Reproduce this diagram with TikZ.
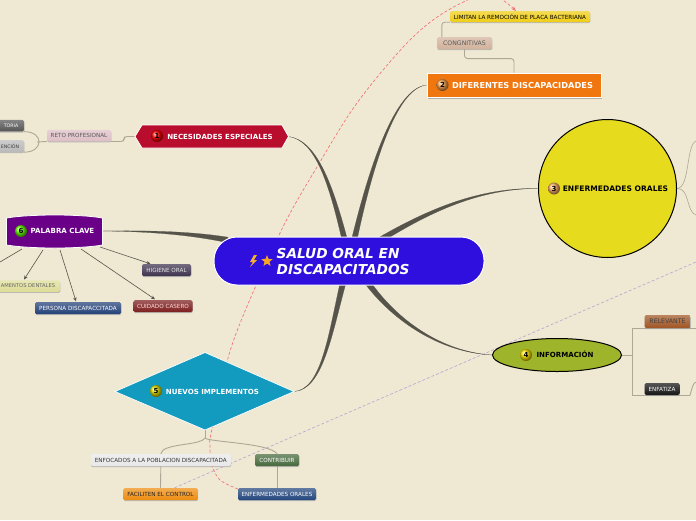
\documentclass[tikz,border=0pt]{standalone}
\usepackage{fontspec}
\setmainfont{DejaVu Sans}
\usetikzlibrary{shapes.geometric,arrows.meta,calc,shadows,backgrounds}
\definecolor{bg}{HTML}{EFE9D3}
\definecolor{lk}{HTML}{56544A}
\definecolor{thinlk}{HTML}{ADA795}
\definecolor{rootc}{RGB}{46,15,221}
\definecolor{cReto}{RGB}{222,190,198}
\definecolor{cTor}{RGB}{85,85,85}
\definecolor{cEnc}{RGB}{185,185,185}
\definecolor{cLim}{RGB}{240,205,20}
\definecolor{cCon}{RGB}{210,178,155}
\definecolor{cRel}{RGB}{160,85,35}
\definecolor{cEnf}{RGB}{20,20,20}
\definecolor{cHig}{RGB}{62,50,78}
\definecolor{cCui}{RGB}{125,30,30}
\definecolor{cPer}{RGB}{35,65,120}
\definecolor{cAme}{RGB}{222,220,150}
\definecolor{cEnfo}{RGB}{232,232,232}
\definecolor{cCtr}{RGB}{70,105,60}
\definecolor{cFac}{RGB}{238,140,15}
\definecolor{cEor}{RGB}{35,70,125}
\tikzset{
  x=1pt,y=-1pt,
  sub/.style n args={3}{rounded corners=1.5pt,font=\fontsize{5.65}{6}\selectfont,inner sep=0pt,minimum height=#1,minimum width=#2,
    drop shadow={shadow xshift=0.3pt,shadow yshift=-1.2pt,fill=black!35,opacity=.7},top color=#3!72!white,bottom color=#3},
  link/.style={draw=thinlk,line width=0.9pt,rounded corners=3pt},
  fine/.style={draw=thinlk,line width=0.6pt},
  taper/.style={fill=lk,draw=lk,line width=0.2pt},
  arr/.style={draw=lk,line width=0.6pt,-{Stealth[length=4pt,width=3.5pt]}},
  main/.style={font=\fontsize{7.05}{8}\selectfont\bfseries,inner sep=0pt},
  badge/.style={circle,inner sep=0pt,minimum size=12pt,font=\fontsize{7}{7}\selectfont\bfseries,text=black,shading=ball},
  rel/.style={densely dashed,line width=.7pt},
}
\newcommand{\taperlink}[6]{% from, c1, c2, to, offset direction
  \draw[taper] ($(#1)-2.8*(#5,#6)$) .. controls ($(#2)-1.7*(#5,#6)$) and ($(#3)-.6*(#5,#6)$) .. (#4) .. controls ($(#3)+.6*(#5,#6)$) and ($(#2)+1.7*(#5,#6)$) .. ($(#1)+2.8*(#5,#6)$) -- cycle;}
\begin{document}
\begin{tikzpicture}
\useasboundingbox (0,0) rectangle (696,520);
\begin{scope}[on background layer]
\fill[bg] (0,0) rectangle (696,520);
\end{scope}
% 1
\draw[white,line width=0.8pt,fill={rgb,255:red,184;green,13;blue,45}] (135,136.5) coordinate (h1w) -- (142,125) -- (282,125) -- (288.5,136.5) coordinate (h1e) -- (282,148) -- (142,148) -- cycle;
\node[text=white,main] (n1) at (220,136.5) {NECESIDADES ESPECIALES};
\node[badge,ball color=red] (b1) at (157,136) {1};
% 2
\node[draw=white,line width=0.8pt,fill={rgb,255:red,240;green,118;blue,15},minimum width=174pt,minimum height=24pt,inner sep=0pt,drop shadow={shadow xshift=1pt,shadow yshift=-2pt,fill=black!40,opacity=.7}] (n2box) at (514,85) {};
\node[text=white,main,font=\fontsize{8.25}{9}\selectfont\bfseries] (n2) at (522.5,85) {DIFERENTES DISCAPACIDADES};
\node[badge,ball color=orange!70!white] (b2) at (442.5,85) {2};
% 3
\node[circle,draw=black,line width=1pt,fill={rgb,255:red,230;green,220;blue,29},minimum size=138pt,inner sep=0pt] (n3) at (607.5,188.5) {};
\node[text=black,main,font=\fontsize{7.55}{8}\selectfont\bfseries] (n3t) at (615.5,188.5) {ENFERMEDADES ORALES};
\node[badge,ball color=orange!60!white] (b3) at (554,188.5) {3};
% 4
\node[ellipse,draw=black,line width=1pt,fill={rgb,255:red,157;green,180;blue,43},minimum width=129pt,minimum height=33pt,inner sep=0pt] (n4) at (557,355) {};
\node[text=black,main] (n4t) at (565,354.5) {INFORMACIÓN};
\node[badge,ball color=yellow!80!orange] (b4) at (526,355) {4};
% 5
\draw[white,line width=0.7pt,fill={rgb,255:red,18;green,154;blue,191}] (115,391.5) coordinate (n5w) -- (205,352.5) -- (294,391.5) coordinate (n5e) -- (205,430) coordinate (n5s) -- cycle;
\node[text=white,main] (n5) at (212.5,391.5) {NUEVOS IMPLEMENTOS};
\node[badge,ball color=yellow!90!black] (b5) at (156,391) {5};
% 6
\draw[white,line width=0.8pt,fill={rgb,255:red,106;green,0;blue,135}] (6.5,218) .. controls (30,214) and (80,214) .. (102.5,218) -- (102.5,245) .. controls (80,249) and (30,249) .. (6.5,245) -- cycle;
\node[text=white,main] (n6) at (62.5,231) {PALABRA CLAVE};
\node[badge,ball color=green!60!yellow] (b6) at (21,231) {6};
\coordinate (n6e) at (103,231);
% central
\node[draw=white,line width=1pt,fill=rootc,rounded corners=23pt,minimum width=270pt,minimum height=48pt,inner sep=0pt] (root) at (349,261) {};
\node[text=white,align=left,font=\fontsize{13.7}{16}\selectfont\bfseries\itshape,anchor=west,inner sep=0pt] (roott) at (276.5,261.5) {SALUD ORAL EN\\DISCAPACITADOS};
\node[star,star points=5,star point ratio=2.3,fill={rgb,255:red,245;green,165;blue,35},inner sep=0pt,minimum size=12pt] (star) at (267,261) {};
\draw[fill={rgb,255:red,245;green,175;blue,50},draw=none] (254,255) -- (250,262) -- (253,262) -- (250,267) -- (257,260) -- (254,260) -- (257,255) -- cycle;
% subtopics
\node[sub={11.5pt}{64pt}{cReto},text=black!65] (s1) at (79,135.5) {RETO PROFESIONAL};
\node[sub={11.5pt}{26pt}{cTor},text=white,font=\fontsize{4.7}{6}\selectfont] (s11) at (11,125.7) {TORIA};
\node[sub={12pt}{28pt}{cEnc},text=black!75,font=\fontsize{4.7}{6}\selectfont] (s12) at (10,146) {ENCIÓN};
\node[sub={11pt}{140pt}{cLim},text=black] (s21) at (520,16.5) {LIMITAN LA REMOCIÓN DE PLACA BACTERIANA};
\node[sub={12pt}{55pt}{cCon},text=black!65,font=\fontsize{6.2}{7}\selectfont] (s2) at (464.5,43) {CONGNITIVAS};
\node[sub={13pt}{46pt}{cRel},text=black!75,font=\fontsize{6.2}{7}\selectfont] (s41) at (667.5,321.5) {RELEVANTE};
\node[sub={12pt}{35pt}{cEnf},text=white] (s42) at (662,389) {ENFATIZA};
\node[sub={12pt}{49pt}{cHig},text=white!90!black] (h) at (166.5,270) {HIGIENE ORAL};
\node[sub={12pt}{59pt}{cCui},text=white!85!red] (cc) at (163,306) {CUIDADO CASERO};
\node[sub={12pt}{86pt}{cPer},text=white!85] (pd) at (78,308) {PERSONA DISCAPACCITADA};
\node[sub={11.5pt}{64pt}{cAme},text=black!60,font=\fontsize{5.2}{6}\selectfont] (id) at (28,286) {AMENTOS DENTALES};
\node[sub={12pt}{140pt}{cEnfo},text=black!80] (e1) at (160.8,460) {ENFOCADOS A LA POBLACION DISCAPACITADA};
\node[sub={12pt}{44pt}{cCtr},text=white!85] (e2) at (277,460) {CONTRIBUIR};
\node[sub={12pt}{74.5pt}{cFac},text=black!85] (f1) at (160.5,494) {FACILITEN EL CONTROL};
\node[sub={12pt}{78pt}{cEor},text=white!85] (f2) at (277,494) {ENFERMEDADES ORALES};
% connectors, all behind the nodes
\begin{scope}[on background layer]
\coordinate (c1) at (345,241);
\coordinate (c2) at (354,241);
\coordinate (c3) at (380,240);
\coordinate (c4) at (368,283);
\coordinate (c5) at (343,283);
\coordinate (c6) at (228,240);
\coordinate (frk) at (205,438);
\coordinate (tie1) at (124,141.5);
\coordinate (brk) at (37,142);
\coordinate (vL) at (632,355);
\coordinate (vT) at (696,328);
\coordinate (vB) at (690,395.5);
\coordinate (vE) at (696,382);
\coordinate (r3a) at (696,141);
\coordinate (r3b) at (696,215);
\coordinate (d2) at (696,262);
\coordinate (apex) at (488,-6);
\coordinate (f2in) at (238,489);
% relationships
\draw[rel,draw={rgb,255:red,190;green,170;blue,210}] ($(f1.north)+(14,0)$) -- (d2);
\draw[rel,draw={rgb,255:red,240;green,120;blue,120},-{Stealth[length=5pt]}] plot[smooth,tension=.55] coordinates {(f2in) (220,480) (212,465) (210,447) (212,429) (233,342) (280,233) (317,167) (357,103) (407,43) (445,12) (apex) (516,11)};
% thick links
\taperlink{c1}{330,180}{315,140}{h1e}{1}{0}
\taperlink{c2}{370,170}{395,88}{n2box.west}{1}{0}
\taperlink{c3}{430,210}{480,188}{n3.west}{.4}{.9}
\taperlink{c4}{395,320}{440,352}{n4.west}{.8}{-.6}
\taperlink{c5}{330,335}{322,390}{n5e}{1}{.2}
\taperlink{c6}{190,233}{150,231}{n6e}{0}{1}
% thin links
\draw[link] (s1.south east) -- (tie1) |- (h1w);
\draw[link] (s1.south west) -- (brk);
\draw[link] (s11.south east) .. controls (44,131.5) and (44,152) .. (s12.south east);
\draw[link] ($(s2.north west)+(5,0)$) |- (s21.south west);
\draw[link] (s2.south) |- ($(n2box.north)+(0,-14)$) -- (n2box.north);
\draw[link,rounded corners=0pt] (n4.east) -- (vL);
\draw[link,rounded corners=0pt] (vT) -- (632,328) -- (632,395.5) -- (vB);
\draw[link] (vB) .. controls (692,388) and (693,383) .. (vE);
\draw[fine] (n3.east) .. controls (690,188) and (686,145) .. (r3a);
\draw[fine] (n3.east) .. controls (690,188) and (686,212) .. (r3b);
\draw[link] (n5s) -- (frk);
\draw[link] (frk) .. controls (200,446) and (162,443) .. (e1.north);
\draw[link] (frk) .. controls (208,442) and (270,443) .. (e2.north);
\draw[link] (e1.south) -- (f1.north);
\draw[link] (e2.south) -- (f2.north);
% arrows from PALABRA CLAVE
\coordinate (a1) at (100,247);
\coordinate (a2) at (81,249);
\coordinate (a3) at (60,250);
\coordinate (a4) at (43,250);
\coordinate (a5) at (22,249);
\coordinate (a6) at (0,262);
\draw[arr] (a1) -- ($(h.north)+(-16,0)$);
\draw[arr] (a2) -- ($(cc.north)+(-8,-.5)$);
\draw[arr] (a3) -- ($(pd.north)+(-2,-.5)$);
\draw[arr] (a4) -- ($(id.north)+(-4,-.5)$);
\draw[draw=lk,line width=.6pt] (a5) -- (a6);
\end{scope}
\end{tikzpicture}
\end{document}
